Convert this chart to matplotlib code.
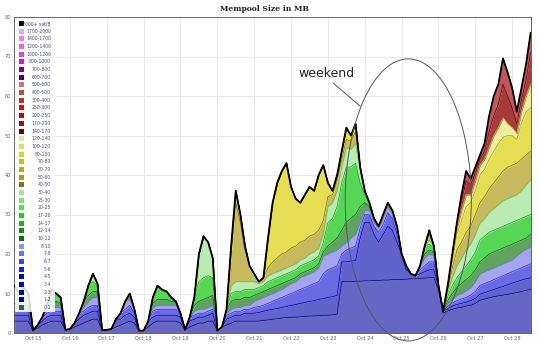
import numpy as np
import matplotlib
matplotlib.use('Agg')
import matplotlib.pyplot as plt
from matplotlib.patches import Ellipse, Rectangle

# samples every 3 hours, x = day of October
day_start, day_step = 14.5, 0.125

total = [12, 10, 11.5, 10,
         0.6, 2, 4, 7, 11, 10, 9, 0.8,
         1, 2.5, 5, 8, 12, 15, 12.5, 0.7,
         0.8, 1, 3.5, 5, 8, 10, 6, 0.6,
         0.6, 3, 9, 12, 11, 10.5, 9, 8,
         5, 0.8, 4, 9, 20, 24.5, 23, 19,
         0.6, 1.5, 6, 22, 36, 30, 22, 17,
         15, 13, 14, 24, 33, 38, 41, 43,
         37, 34, 33, 35, 37, 36, 40, 42.5,
         38, 36, 40, 46, 52, 50, 53, 42,
         36, 33, 29, 27, 30, 33, 31, 27,
         20, 17, 15, 14.5, 17, 22, 26, 22,
         12, 5.5, 12, 20, 28, 35, 41, 39,
         42, 45, 48, 55, 60, 63, 69.5, 66,
         62, 56, 62, 68, 76]

# upper edge of each fee band (MB, stacked); 0 = band reaches the top line
top_1_2 = [3, 3, 3, 3,
           0, 1.2, 2, 2.5, 3, 3, 3, 0,
           0, 1.5, 2, 2.5, 3, 3.5, 3.5, 0,
           0, 0, 1.5, 2, 2.5, 3, 2.5, 0,
           0, 1.5, 2.5, 3, 3, 3, 3, 3,
           2.5, 0, 1.5, 2, 2.5, 2.5, 3, 3,
           0, 0, 2, 2.5, 3, 3, 3, 3,
           3, 3, 3.2, 3.3, 3.5, 3.6, 3.8, 3.9,
           4, 4, 4.1, 4.2, 4.3, 4.3, 4.4, 4.5,
           4.5, 4.6, 4.8, 13, 13, 13, 13.1, 13.1,
           13.2, 13.2, 13.3, 13.3, 13.4, 13.4, 13.5, 13.5,
           13.6, 13.6, 13.7, 13.7, 13.8, 13.9, 14, 14,
           11, 5, 5.6, 6, 6.3, 6.5, 6.8, 7,
           7.5, 8.3, 8.6, 8.9, 9.2, 9.4, 9.6, 9.8,
           10, 10.2, 10.5, 10.8, 11]
top_2_6 = [4.5, 4.5, 4.5, 4.5,
           0, 0, 3, 4, 4.5, 4.5, 4.5, 0,
           0, 0, 3.5, 4.5, 5, 5.5, 5.5, 0,
           0, 0, 0, 3.5, 4.5, 5, 4, 0,
           0, 0, 4, 4.5, 4.5, 4.5, 4.5, 4.5,
           4, 0, 3, 3.5, 4, 4, 4.5, 5,
           0, 0, 3.5, 4, 4.5, 4.5, 5, 5,
           5, 5.2, 5.5, 5.8, 6, 6.2, 6.5, 6.7,
           7, 7.2, 7.5, 7.7, 8, 8.2, 8.5, 8.7,
           9, 9.2, 9.5, 18, 18, 18.2, 18.3, 24,
           28, 28, 25, 23, 25, 27, 26, 23,
           19.8, 16, 0, 0, 15, 15.5, 16, 16,
           0, 0, 6.2, 6.8, 7.2, 7.5, 7.8, 8.2,
           8.8, 9.8, 10.2, 10.6, 11, 11.4, 11.8, 12.2,
           12.6, 13, 13.4, 13.7, 14]
top_6_8 = [5.5, 5.5, 5.5, 5.5,
           0, 0, 0, 5, 5.5, 5.5, 5.5, 0,
           0, 0, 0, 5.5, 6.5, 7, 7, 0,
           0, 0, 0, 0, 6, 7, 5, 0,
           0, 0, 5.5, 6, 6, 6, 6, 6,
           0, 0, 0, 4.5, 5, 5, 5.5, 6,
           0, 0, 4.5, 5, 5.5, 5.5, 6, 6,
           6.5, 6.7, 7, 7.5, 8, 8.5, 9, 9.5,
           10, 10.5, 11, 11.5, 12, 12.5, 13, 15,
           16, 16.5, 17, 20, 21, 21.5, 22, 26.5,
           30, 30, 27, 25.5, 27.5, 30.5, 29, 25,
           0, 0, 0, 0, 16, 17, 18, 18,
           0, 0, 6.8, 7.6, 8.2, 8.6, 9, 9.6,
           10.5, 12, 12.5, 13, 13.5, 14, 14.5, 15,
           15.5, 16, 16.5, 17, 17.5]
top_8_10 = [6, 6, 6, 6,
            0, 0, 0, 6, 6.5, 6.5, 6.5, 0,
            0, 0, 0, 6.5, 8, 9, 9, 0,
            0, 0, 0, 0, 0, 8.5, 0, 0,
            0, 0, 6.5, 7, 7, 7, 7, 7,
            0, 0, 0, 5.5, 6, 6, 6.5, 7,
            0, 0, 5, 6, 6.5, 6.5, 7, 7,
            8, 8.5, 9, 9.5, 10, 10.5, 11, 11.8,
            12.5, 13, 14, 14.5, 15, 15.5, 16.5, 19.5,
            20, 20.5, 21, 22, 23, 24, 25, 28,
            31, 31, 28, 26.5, 29, 32, 30, 26,
            0, 0, 0, 0, 0, 19, 20, 19.5,
            0, 0, 7.4, 8.5, 9.5, 10, 10.7, 11.5,
            13, 15, 15.5, 16, 16.5, 17, 17.5, 18,
            18.5, 19.5, 20.5, 21.2, 21.8]
top_10_14 = [7.5, 7, 7, 7,
             0, 0, 0, 0, 8, 8, 7.5, 0,
             0, 0, 0, 0, 9.5, 10.5, 10.5, 0,
             0, 0, 0, 0, 0, 0, 0, 0,
             0, 0, 7.5, 8.5, 8.5, 8.5, 8, 0,
             0, 0, 0, 7, 8, 8.5, 9, 9.5,
             0, 0, 0, 8, 8.5, 8.5, 9, 9,
             9.5, 10, 10.5, 11, 11.5, 12, 12.5, 13,
             13.5, 14, 15, 15.5, 16, 16.5, 17.5, 20.5,
             22, 23, 24, 26, 28, 29, 30, 32,
             33, 32, 0, 0, 0, 0, 0, 0,
             0, 0, 0, 0, 0, 20, 21, 20.5,
             0, 0, 8.2, 10, 11.5, 12.5, 13.5, 14.5,
             16, 18, 19, 20, 20.5, 21, 21.5, 22,
             22.5, 23, 23.5, 24, 25]
top_14_25 = [0, 0, 0, 0,
             0, 0, 0, 0, 0, 0, 0, 0,
             0, 0, 0, 0, 0, 13, 12, 0,
             0, 0, 0, 0, 0, 0, 0, 0,
             0, 0, 0, 0, 0, 0, 0, 0,
             0, 0, 0, 0, 13, 14, 14.5, 14,
             0, 0, 0, 10, 10.5, 10.5, 11, 11,
             11, 11.5, 12, 13, 13.5, 14, 14.5, 15,
             15.5, 16, 17, 17.5, 18, 18.5, 19.5, 23,
             28, 29, 32, 38, 42, 42, 43, 38,
             35, 0, 0, 0, 0, 0, 0, 0,
             0, 0, 0, 0, 0, 0, 22.5, 21.5,
             0, 0, 9.2, 12, 14, 15.5, 17, 18.5,
             20.5, 23.5, 24.5, 25.5, 26, 26.5, 27, 27.5,
             28, 28.5, 29, 29.5, 30]
top_25_40 = [0] * 44 + [
             0, 0, 0, 12, 13, 13, 13, 13,
             13, 12.5, 13, 14.5, 15, 15.5, 16, 16.5,
             17, 17.5, 18.5, 19, 20, 20.5, 21.5, 25,
             32, 33, 36, 42, 47, 46.5, 48, 41,
             0, 0, 0, 0, 0, 0, 0, 0,
             0, 0, 0, 0, 0, 0, 23.5, 0,
             0, 0, 10.2, 14, 17, 19, 21, 22.5,
             25, 27.8, 29, 30.5, 31.5, 32.5, 33.5, 34,
             34.5, 35, 36, 37.5, 38.7]
top_40_60 = [0] * 44 + [
             0, 0, 0, 20, 33, 28, 21, 0,
             0, 0, 0, 16.5, 18, 19, 20, 20.5,
             21.5, 22, 23, 23.5, 24.5, 25, 26, 28.5,
             34.5, 35, 38.5, 44, 49, 48.5, 51, 0,
             0, 0, 0, 0, 0, 0, 0, 0,
             0, 0, 0, 0, 0, 0, 25, 0,
             0, 0, 11, 16.5, 21, 23, 25.5, 27,
             30, 33, 34.5, 36.5, 38, 39.5, 41, 42,
             42.5, 43, 44, 45, 46]
top_60_100 = [0] * 92 + [
              0, 0, 11.5, 18.5, 25, 28.5, 32, 33,
              36, 40, 41.5, 44, 46, 48, 49.5, 50,
              50, 49, 53, 56, 57]
top_100_140 = [0] * 92 + [
               0, 0, 11.8, 19.2, 26.5, 31, 35, 35,
               38.5, 42.5, 44, 47, 50, 52, 54.5, 53,
               52, 50.5, 56, 60, 63]
top_140_250 = [0] * 92 + [
               0, 0, 0, 0, 27.5, 33.5, 38.5, 37.5,
               40.5, 44, 46, 51, 55, 58, 63, 60,
               57, 53, 59, 64, 71]

band_fill = ['#6666c4', '#6262cc', '#6a6ae4', '#a4a4f0', '#5fa35f', '#55d655',
             '#b8ecb2', '#c6b95e', '#e6de52', '#eeee9c', '#a83a3a', '#c05858']
band_line = ['#000080', '#0000a8', '#2828d8', '#7070e0', '#106010', '#10a010',
             '#60c060', '#707010', '#a0a010', '#c8c850', '#600010', '#900020']

legend_labels = ['2000+ sat/B', '1700-2000', '1400-1700', '1200-1400', '1000-1200',
                 '800-1000', '700-800', '600-700', '500-600', '400-500', '300-400',
                 '250-300', '200-250', '170-200', '140-170', '120-140', '100-120',
                 '80-100', '70-80', '60-70', '50-60', '40-50', '30-40', '25-30',
                 '20-25', '17-20', '14-17', '12-14', '10-12', '8-10', '7-8', '6-7',
                 '5-6', '4-5', '3-4', '2-3', '1-2', '0-1']
legend_colors = ['#000000', '#f0a0f0', '#f080f0', '#e860e8', '#e040e0', '#c020c0',
                 '#800080', '#500050', '#d07080', '#c84848', '#c82828', '#d01020',
                 '#a01020', '#901020', '#600010', '#e0e8a0', '#d8e060', '#d0d830',
                 '#c0c020', '#b0b020', '#a0a020', '#807020', '#a0e0a0', '#80e080',
                 '#50e050', '#20d020', '#20b020', '#109010', '#107010', '#9090f0',
                 '#7070e8', '#4040e0', '#2020d0', '#0000c0', '#0000b0', '#000098',
                 '#000080', '#505050']

tot = np.array(total, dtype=float)
days = day_start + day_step * np.arange(len(tot))
lev = np.array([top_1_2, top_2_6, top_6_8, top_8_10, top_10_14, top_14_25,
                top_25_40, top_40_60, top_60_100, top_100_140, top_140_250], dtype=float)
absent = np.cumsum(lev == 0, axis=0) > 0
lev = np.where(absent, tot, np.minimum(lev, tot))
lev = np.maximum.accumulate(lev, axis=0)
bounds = np.vstack([np.zeros_like(tot), lev, tot])

W, H = 540, 348
fig = plt.figure(figsize=(W / 100, H / 100), dpi=100)
ax = fig.add_axes([14 / W, 15 / H, 517 / W, 316 / H])

for k in range(len(band_fill)):
    ax.fill_between(days, bounds[k], bounds[k + 1], facecolor=band_fill[k],
                    edgecolor=band_fill[k], lw=0.2, zorder=2)
for k in range(len(band_fill)):
    ax.plot(days, bounds[k + 1], color=band_line[k], lw=0.5, zorder=3)
ax.plot(days, tot, color='black', lw=1.3, zorder=4)

ax.set_xlim(14.484, 28.51)
ax.set_ylim(0, 80)
ax.set_xticks(range(15, 29))
ax.set_xticklabels(['Oct %d' % d for d in range(15, 29)])
ax.set_yticks(range(0, 81, 10))
ax.tick_params(length=0, labelsize=3.6, colors='#666666', pad=2)
ax.grid(color='#e6e6e6', lw=0.6)
ax.set_axisbelow(True)
for s in ax.spines.values():
    s.set_color('#666666')
    s.set_linewidth(0.7)

fig.text(264 / W, 1 - 9 / H, 'Mempool Size in MB', ha='center', va='center',
         family='DejaVu Serif', weight='bold', fontsize=5.5, color='#222222')

# weekend annotation
ax.add_patch(Ellipse((25.18, 33.7), 3.42, 71.4, fill=False, ec='#555555',
                     lw=0.7, clip_on=False, zorder=5))
ax.plot([23.14, 23.87], [63.3, 57.5], color='#555555', lw=0.7, zorder=5)
ax.text(22.95, 65.8, 'weekend', ha='center', va='center', fontsize=9,
        color='#222222', zorder=5)

# legend box
fig.patches.append(Rectangle((15 / W, 1 - 312 / H), 40 / W, 294 / H,
                             transform=fig.transFigure, facecolor='white',
                             alpha=0.85, edgecolor='none', zorder=5))
for k, (lab, col) in enumerate(zip(legend_labels, legend_colors)):
    yc = 23.5 + k * 7.68
    fig.patches.append(Rectangle((19 / W, 1 - (yc + 2.5) / H), 5 / W, 5 / H,
                                 transform=fig.transFigure, facecolor=col,
                                 edgecolor='none', zorder=6))
    fig.text(51 / W, 1 - yc / H, lab, ha='right', va='center', fontsize=3.3,
             color='#4a4a7a', zorder=6)

fig.savefig('out.png', dpi=100)
